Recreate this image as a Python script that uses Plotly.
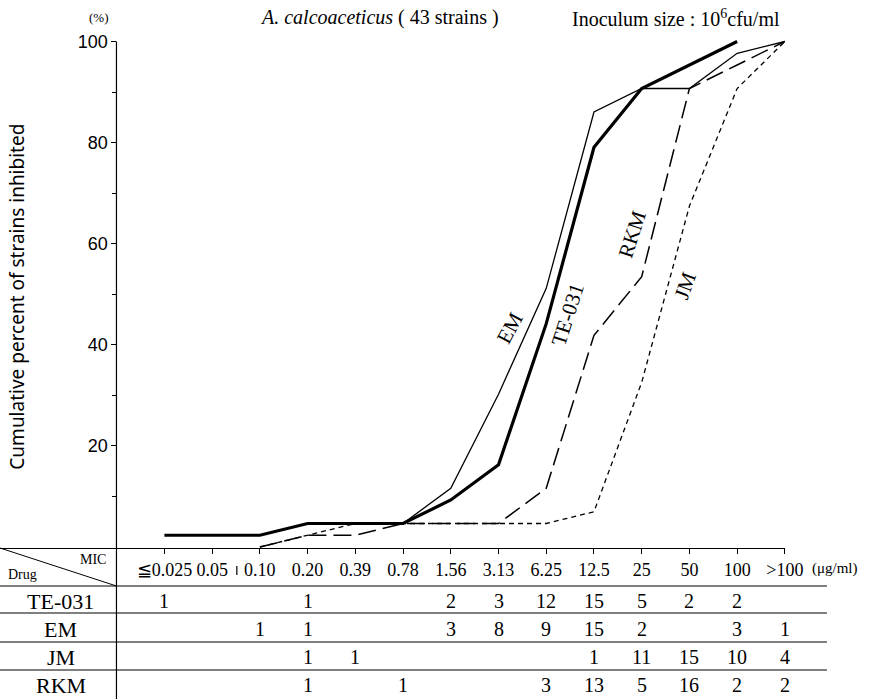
import numpy as np
import plotly.graph_objects as go

# MIC categories (µg/ml) and number of strains inhibited at each MIC
mic_labels = ["≦0.025", "0.05", "0.10", "0.20", "0.39", "0.78", "1.56",
              "3.13", "6.25", "12.5", "25", "50", "100", ">100"]
drugs = ["TE-031", "EM", "JM", "RKM"]
counts_te031 = [1, 0, 0, 1, 0, 0, 2, 3, 12, 15, 5, 2, 2, 0]
counts_em = [0, 0, 1, 1, 0, 0, 3, 8, 9, 15, 2, 0, 3, 1]
counts_jm = [0, 0, 0, 1, 1, 0, 0, 0, 0, 1, 11, 15, 10, 4]
counts_rkm = [0, 0, 0, 1, 0, 1, 0, 0, 3, 13, 5, 16, 2, 2]
line_start = {"TE-031": 0, "EM": 2, "JM": 2, "RKM": 2}
n_strains = 43

counts = {"TE-031": counts_te031, "EM": counts_em, "JM": counts_jm, "RKM": counts_rkm}

W, H = 890, 699
X0_PX, X13_PX = 168.0, 802.0        # pixel x of first / last MIC column
Y0_PX, Y100_PX = 547.0, 41.5        # pixel y of 0 % / 100 %
AXIS_X_PX = 119.0                   # vertical axis / table separator


def px(x):
    return x / W


def py(y):
    return 1 - y / H


unit_x = (X13_PX - X0_PX) / 13
x_range = [-X0_PX / unit_x, 13]
unit_y = (Y0_PX - Y100_PX) / 100
y_range = [-(H - Y0_PX) / unit_y, Y0_PX / unit_y]

styles = {
    "TE-031": dict(width=3.2, dash="solid"),
    "EM": dict(width=1.3, dash="solid"),
    "JM": dict(width=1.3, dash="5px,4px"),
    "RKM": dict(width=1.5, dash="18px,7px"),
}

fig = go.Figure()
idx = np.arange(len(mic_labels))
for d in drugs:
    c = np.array(counts[d])
    cum = np.cumsum(c) / n_strains * 100
    last = int(np.nonzero(c)[0].max())
    s = line_start[d]
    fig.add_trace(go.Scatter(
        x=idx[s:last + 1], y=cum[s:last + 1], mode="lines", name=d,
        line=dict(color="black", width=styles[d]["width"], dash=styles[d]["dash"]),
        showlegend=False, hoverinfo="x+y+name"))

serif = "Liberation Serif"
ann = []


def label(text, x, y, size, family=serif, xanchor="center", yanchor="middle",
          xref="paper", angle=0):
    ann.append(dict(text=text, x=x, y=py(y), xref=xref, yref="paper",
                    xanchor=xanchor, yanchor=yanchor, showarrow=False,
                    textangle=angle, font=dict(family=family, size=size, color="black")))


# curve labels
for text, x, y, ang in [("EM", 521, 328, -62), ("TE-031", 580, 315, -72),
                        ("RKM", 646, 234, -72), ("JM", 700, 286, -70)]:
    label(text, px(x), y, 21, angle=ang)

# titles
label("<i>A. calcoaceticus</i> ( 43 strains )", px(388), 18, 20)
label("Inoculum size : 10<sup>6</sup>cfu/ml", px(691), 18, 20)
label("(%)", px(101), 17, 13)
label("Cumulative percent of strains inhibited", px(17), 297, 19,
      family="Noto Sans", angle=-90)
label("(μg/ml)", px(853), 568, 15)

# table header cell
label("MIC", px(110), 559, 14, xanchor="right")
label("Drug", px(6), 574, 14, xanchor="left")

# table body
row_y = {"TE-031": 601, "EM": 629, "JM": 657, "RKM": 685}
for d in drugs:
    label(d, px(62), row_y[d], 22)
    for i, v in enumerate(counts[d]):
        if v:
            label(str(v), i, row_y[d], 20, xref="x")

shapes = []
line_style = dict(color="black", width=1.2)
# vertical axis line from 100 % down through the table
shapes.append(dict(type="line", xref="paper", yref="y", x0=px(AXIS_X_PX), x1=px(AXIS_X_PX),
                   y0=0, y1=100, line=line_style))
shapes.append(dict(type="line", xref="paper", yref="paper", x0=px(AXIS_X_PX), x1=px(AXIS_X_PX),
                   y0=0, y1=py(Y0_PX), line=line_style))
# diagonal in header cell
shapes.append(dict(type="line", xref="paper", yref="paper", x0=0, x1=px(AXIS_X_PX),
                   y0=py(Y0_PX + 1), y1=py(586), line=dict(color="black", width=1)))
# small separator mark between the 0.05 and 0.10 labels
shapes.append(dict(type="line", xref="paper", yref="paper", x0=px(242), x1=px(242),
                   y0=py(566), y1=py(575), line=dict(color="black", width=1.2)))
# row separators
for yy in [586, 613, 642, 670]:
    shapes.append(dict(type="line", xref="paper", yref="paper", x0=0, x1=px(845),
                       y0=py(yy), y1=py(yy), line=dict(color="black", width=1.1)))

fig.update_layout(
    width=W, height=H, autosize=False, margin=dict(l=0, r=0, t=0, b=0, pad=0),
    paper_bgcolor="white", plot_bgcolor="white",
    annotations=ann, shapes=shapes,
    xaxis=dict(domain=[0, px(X13_PX)], range=x_range, anchor="free",
               position=py(Y0_PX + 1), side="bottom",
               showline=True, linecolor="black", linewidth=1.2,
               ticks="outside", ticklen=5, tickcolor="black", tickwidth=1,
               tickvals=list(idx), ticktext=mic_labels, tickangle=0,
               tickfont=dict(family=serif, size=18, color="black"),
               showgrid=False, zeroline=False, fixedrange=True),
    yaxis=dict(domain=[0, 1], range=y_range, anchor="free", position=px(AXIS_X_PX),
               showline=False, ticks="outside", ticklen=5, tickcolor="black", tickwidth=1,
               tickvals=[20, 40, 60, 80, 100],
               tickfont=dict(family="Liberation Sans", size=18, color="black"),
               minor=dict(tickvals=[10, 30, 50, 70, 90], ticks="outside", ticklen=4,
                          tickcolor="black"),
               showgrid=False, zeroline=False, fixedrange=True),
)

page_style = ("document.documentElement.style.overflow='hidden';"
              "document.body.style.margin='0';document.body.style.overflow='hidden';")
fig.write_html("out.html", config={"responsive": False, "displayModeBar": False},
               post_script=page_style)
